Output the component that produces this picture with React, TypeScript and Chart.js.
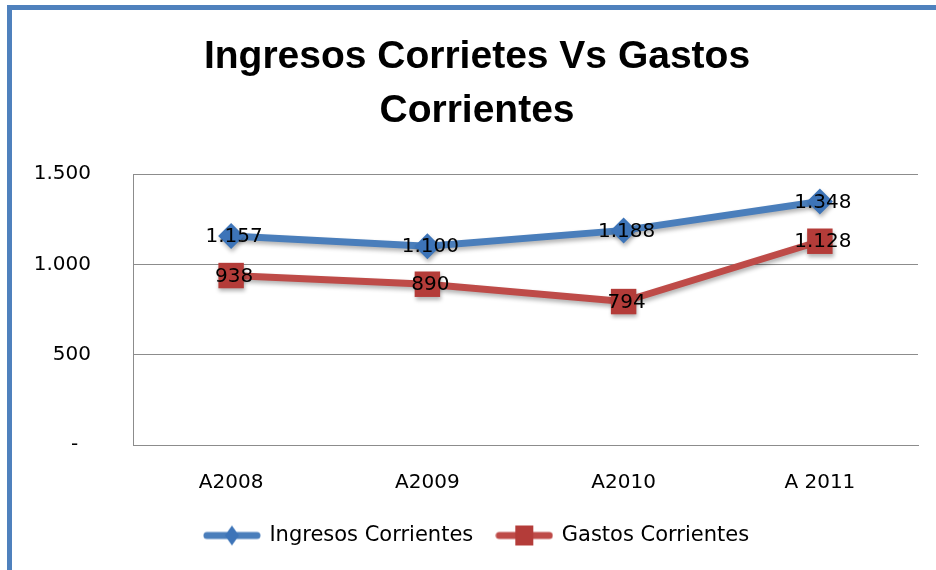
import React, { useEffect, useRef } from 'react';
import { Chart, registerables } from 'chart.js';

Chart.register(...registerables);

const categories = ['A2008', 'A2009', 'A2010', 'A 2011'];
const ingresos = [1157, 1100, 1188, 1348];
const gastos = [938, 890, 794, 1128];
const yTicks = [0, 500, 1000, 1500];
const titleLines = ['Ingresos Corrietes Vs Gastos', 'Corrientes'];
const seriesNames = ['Ingresos Corrientes', 'Gastos Corrientes'];

const BLUE_LINE = '#4A7EBB';
const BLUE_MARK = '#3D74B8';
const RED_LINE = '#BE4B48';
const RED_MARK = '#B43C39';
const GRID = '#8C8C8C';
const FONT = '"DejaVu Sans"';

function fmt(v: number): string {
  if (v === 0) return '-  ';
  return String(v).replace(/\B(?=(\d{3})+(?!\d))/g, '.');
}

function makeLegendImg(kind: 'diamond' | 'square'): HTMLCanvasElement {
  const c = document.createElement('canvas');
  c.width = 58;
  c.height = 24;
  const g = c.getContext('2d')!;
  const color = kind === 'diamond' ? BLUE_LINE : RED_LINE;
  g.strokeStyle = color;
  g.lineWidth = 7;
  g.lineCap = 'round';
  g.beginPath();
  g.moveTo(4, 12);
  g.lineTo(54, 12);
  g.stroke();
  if (kind === 'diamond') {
    g.fillStyle = BLUE_MARK;
    g.beginPath();
    g.moveTo(29, 2);
    g.lineTo(36, 12);
    g.lineTo(29, 22);
    g.lineTo(22, 12);
    g.closePath();
    g.fill();
  } else {
    g.fillStyle = RED_MARK;
    g.fillRect(20, 2, 18, 20);
  }
  return c;
}

export default function App() {
  const ref = useRef<HTMLCanvasElement>(null);

  useEffect(() => {
    if (!ref.current) return;
    const legendImgs = [makeLegendImg('diamond'), makeLegendImg('square')];

    const fxPlugin = {
      id: 'fx',
      beforeDatasetsDraw(chart: any) {
        const ctx = chart.ctx;
        ctx.save();
        ctx.shadowColor = 'rgba(0,0,0,0.3)';
        ctx.shadowBlur = 4;
        ctx.shadowOffsetX = 1;
        ctx.shadowOffsetY = 3;
      },
      afterDatasetsDraw(chart: any) {
        const ctx = chart.ctx;
        ctx.restore();
        ctx.save();
        ctx.font = `20px ${FONT}`;
        ctx.fillStyle = '#000';
        ctx.textAlign = 'center';
        ctx.textBaseline = 'middle';
        chart.data.datasets.forEach((ds: any, i: number) => {
          const meta = chart.getDatasetMeta(i);
          meta.data.forEach((pt: any, j: number) => {
            ctx.fillText(fmt(ds.data[j]), pt.x + 3, pt.y + 1);
          });
        });
        ctx.restore();
      },
    };

    const chart = new Chart(ref.current, {
      type: 'line',
      data: {
        labels: categories,
        datasets: [
          {
            label: seriesNames[0],
            data: ingresos,
            borderColor: BLUE_LINE,
            backgroundColor: BLUE_MARK,
            borderWidth: 7,
            tension: 0,
            pointStyle: 'rectRot',
            pointRadius: 13,
            pointBorderWidth: 0,
            pointBackgroundColor: BLUE_MARK,
          },
          {
            label: seriesNames[1],
            data: gastos,
            borderColor: RED_LINE,
            backgroundColor: RED_MARK,
            borderWidth: 7,
            tension: 0,
            pointStyle: 'rect',
            pointRadius: 18,
            pointBorderWidth: 0,
            pointBackgroundColor: RED_MARK,
          },
        ],
      },
      options: {
        animation: false,
        responsive: false,
        events: [],
        layout: { padding: { left: 33, right: 15, top: 0, bottom: 14 } },
        scales: {
          x: {
            offset: true,
            grid: { display: false },
            border: { display: true, color: GRID, width: 1 },
            ticks: { color: '#000', font: { family: FONT, size: 20 }, padding: 18, maxRotation: 0 },
            afterFit: (s: any) => {
              s.height = 56;
            },
          },
          y: {
            min: 0,
            max: 1500,
            afterBuildTicks: (s: any) => {
              s.ticks = yTicks.map((v) => ({ value: v }));
            },
            grid: { color: GRID, lineWidth: 1, drawTicks: false },
            border: { display: true, color: GRID, width: 1 },
            ticks: {
              color: '#000',
              font: { family: FONT, size: 20 },
              padding: 42,
              callback: (v: any) => fmt(Number(v)),
            },
            afterFit: (s: any) => {
              s.width = 100;
            },
          },
        },
        plugins: {
          title: {
            display: true,
            text: titleLines,
            color: '#000',
            font: { family: 'Liberation Sans', size: 39, weight: 'bold', lineHeight: 1.385 },
            padding: { top: 30, bottom: 36 },
          },
          legend: {
            display: true,
            position: 'bottom',
            labels: {
              usePointStyle: true,
              pointStyleWidth: 54,
              padding: 24,
              color: '#000',
              font: { family: FONT, size: 21 },
              generateLabels: (c: any) =>
                c.data.datasets.map((ds: any, i: number) => ({
                  text: ds.label,
                  pointStyle: legendImgs[i],
                  fillStyle: 'transparent',
                  strokeStyle: 'transparent',
                  lineWidth: 0,
                  hidden: false,
                  datasetIndex: i,
                  fontColor: '#000',
                })),
            },
          },
          tooltip: { enabled: false },
        },
      },
      plugins: [fxPlugin],
    } as any);

    return () => chart.destroy();
  }, []);

  return (
    <div style={{ position: 'absolute', left: 0, top: 0, width: 936, height: 570, background: '#fff', overflow: 'hidden' }}>
      <canvas ref={ref} width={936} height={570} style={{ position: 'absolute', left: 0, top: 0, width: 936, height: 570 }} />
      <div style={{ position: 'absolute', left: 7, top: 5, width: 929, height: 5, background: '#4F81BD' }} />
      <div style={{ position: 'absolute', left: 7, top: 5, width: 5, height: 565, background: '#4F81BD' }} />
    </div>
  );
}
